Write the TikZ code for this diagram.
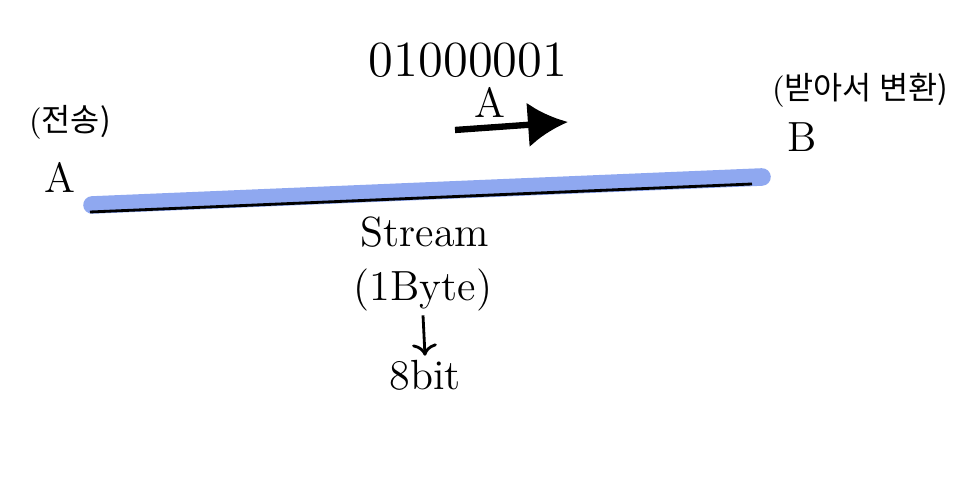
\documentclass[tikz,border=0pt]{standalone}
\usepackage{fontspec}
\newfontfamily\kofont{Noto Sans CJK KR}
\usetikzlibrary{arrows.meta}
\definecolor{streamblue}{HTML}{8FA8F0}
\begin{document}
\begin{tikzpicture}[hand/.style={font=\large}]
    \useasboundingbox[fill=white](0,0)rectangle(9.56,4.8);
        \coordinate(s1)at(0.92,2.75);
        \coordinate(s2)at(7.62,3.03);
        \draw[line width=5pt,streamblue,line cap=round](s1)--(s2);
        \draw[thick](0.9,2.68)--(7.52,2.96);
        \node[font=\small](send)at(0.7,3.58){(\kofont 전송)};
        \node[hand](a)at(0.6,3.03){A};
        \node[font=\small](recv)at(8.6,3.9){(\kofont 받아서 변환)};
        \node[hand](b)at(8.02,3.43){B};
        \node[font=\Large,inner sep=1pt](bits)at(4.68,4.2){01000001};
        \node[hand,inner sep=1pt](char)at(4.9,3.78){A};
        \coordinate(t1)at(4.55,3.5);
        \coordinate(t2)at(5.68,3.58);
        \draw[-{Latex[length=4mm,width=4.5mm]},line width=1.8pt](t1)--(t2);
        \node[hand](stream)at(4.25,2.48){Stream};
        \node[hand,inner sep=1pt](byte)at(4.23,1.9){(1Byte)};
        \node[hand,inner sep=1pt](bit)at(4.25,1.05){8bit};
        \draw[->,thick](byte.south)--(bit.north);
\end{tikzpicture}
\end{document}
